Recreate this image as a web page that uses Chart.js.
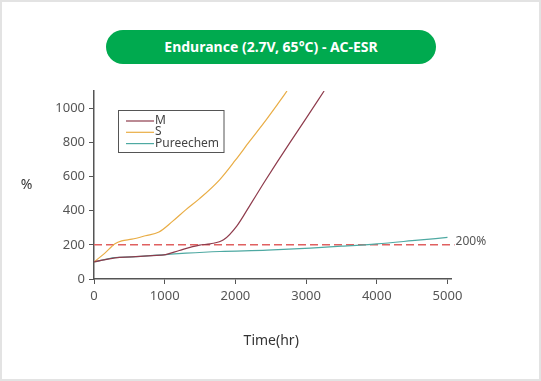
<!DOCTYPE html>
<html><head><meta charset="utf-8">
<script src="https://cdn.jsdelivr.net/npm/chart.js@4/dist/chart.umd.min.js"></script>
<style>
html,body{margin:0;padding:0;background:#fff;}
#card{position:absolute;left:0;top:0;width:541px;height:381px;box-sizing:border-box;border:2px solid #e3e3e3;}
#wrap{position:absolute;left:0;top:0;width:541px;height:381px;}
#title{position:absolute;left:106px;top:30px;width:330px;height:34px;border-radius:17px;background:#00AA4F;color:#fff;font:bold 14px "Noto Sans",sans-serif;line-height:34px;text-align:center;}
</style></head>
<body>
<div id="card"></div>
<div id="wrap"><canvas id="c" width="541" height="381"></canvas></div>
<div id="title">Endurance (2.7V, 65°C) - AC-ESR</div>
<script>
const seriesNames = ["M", "S", "Pureechem"];
const mHours = [0,297,536,823,1014,1206,1493,1645,1833,2022,2210,2399,2588,2776,3000,3255];
const mValues = [100,124,129,137,143,167,198,206,229,311,434,560,682,801,940,1100];
const sHours = [0,150,297,392,536,727,919,1110,1301,1493,1780,2000,2200,2400,2600,2730];
const sValues = [100,150,206,223,233,253,275,337,406,470,582,695,805,912,1025,1100];
const pHours = [0,297,536,1014,1301,1780,2450,3061,3500,4003,4500,5000];
const pValues = [100,125,129,143,151,161,169,181,192,206,224,243];
const limitHours = [0,5100];
const limitValues = [200,200];
const xTicks = [0,1000,2000,3000,4000,5000];
const yTicks = [0,200,400,600,800,1000];
const limitLabel = "200%";
const xTitle = "Time(hr)";
const yTitle = "%";

const pts = (h,v)=>h.map((x,i)=>({x:x,y:v[i]}));
const colors = ["#8E3B4C","#E9AD45","#4EA9A2"];
const FONT = '"Noto Sans", sans-serif';

const overlay = {
  id:'overlay',
  afterDraw(chart){
    const ctx = chart.ctx;
    const xs = chart.scales.x, ys = chart.scales.y;
    ctx.save();
    const lx=118.5, ly=110.5, lw=105.5, lh=42;
    ctx.fillStyle="#fff"; ctx.fillRect(lx,ly,lw,lh);
    ctx.strokeStyle="#555"; ctx.lineWidth=1; ctx.strokeRect(lx,ly,lw,lh);
    ctx.font='12px '+FONT; ctx.textBaseline='middle'; ctx.textAlign='left';
    seriesNames.forEach((n,i)=>{
      const y = 120.5 + i*11.3;
      ctx.strokeStyle=colors[i]; ctx.lineWidth=1.2;
      ctx.beginPath(); ctx.moveTo(126,y+0.5); ctx.lineTo(154,y+0.5); ctx.stroke();
      ctx.fillStyle="#444"; ctx.fillText(n,155,y);
    });
    ctx.fillStyle="#555"; ctx.font='12px '+FONT;
    ctx.fillText(limitLabel, xs.getPixelForValue(limitHours[1])+1, ys.getPixelForValue(limitValues[1])-3);
    ctx.fillStyle="#333"; ctx.font='14px '+FONT; ctx.textAlign='center';
    ctx.fillText(yTitle, 26.5, 185);
    ctx.fillText(xTitle, (xs.getPixelForValue(0)+xs.getPixelForValue(5000))/2 + 0.5, 341);
    ctx.restore();
  }
};

const lineDs = (i,h,v)=>({label:seriesNames[i],data:pts(h,v),borderColor:colors[i],borderWidth:1.2,pointRadius:0,cubicInterpolationMode:'monotone'});

new Chart(document.getElementById('c'),{
  type:'line',
  data:{datasets:[
    lineDs(0,mHours,mValues),
    lineDs(1,sHours,sValues),
    lineDs(2,pHours,pValues),
    {label:'limit',data:pts(limitHours,limitValues),borderColor:"#E06060",borderWidth:1.4,borderDash:[8,4],pointRadius:0,clip:false,order:5}
  ]},
  options:{
    responsive:false,animation:false,
    layout:{padding:{left:0,right:90,top:91,bottom:0}},
    plugins:{legend:{display:false},tooltip:{enabled:false}},
    scales:{
      x:{type:'linear',min:0,max:5050,
        afterBuildTicks:s=>{s.ticks=xTicks.map(v=>({value:v}));},
        afterFit:s=>{s.height=102;},
        grid:{drawOnChartArea:false,tickLength:5,color:"#555",lineWidth:1},
        border:{display:true,color:"#555",width:1.5},
        ticks:{padding:4,color:"#555",font:{family:FONT,size:13},maxRotation:0,autoSkip:false,callback:v=>String(v)}},
      y:{min:0,max:1100,
        afterBuildTicks:s=>{s.ticks=yTicks.map(v=>({value:v}));},
        afterFit:s=>{s.width=94;},
        grid:{drawOnChartArea:false,tickLength:5,color:"#555",lineWidth:1},
        border:{display:true,color:"#555",width:1.5},
        ticks:{padding:4,color:"#555",font:{family:FONT,size:13},callback:v=>String(v)}}
    }
  },
  plugins:[overlay]
});
</script>
</body></html>
